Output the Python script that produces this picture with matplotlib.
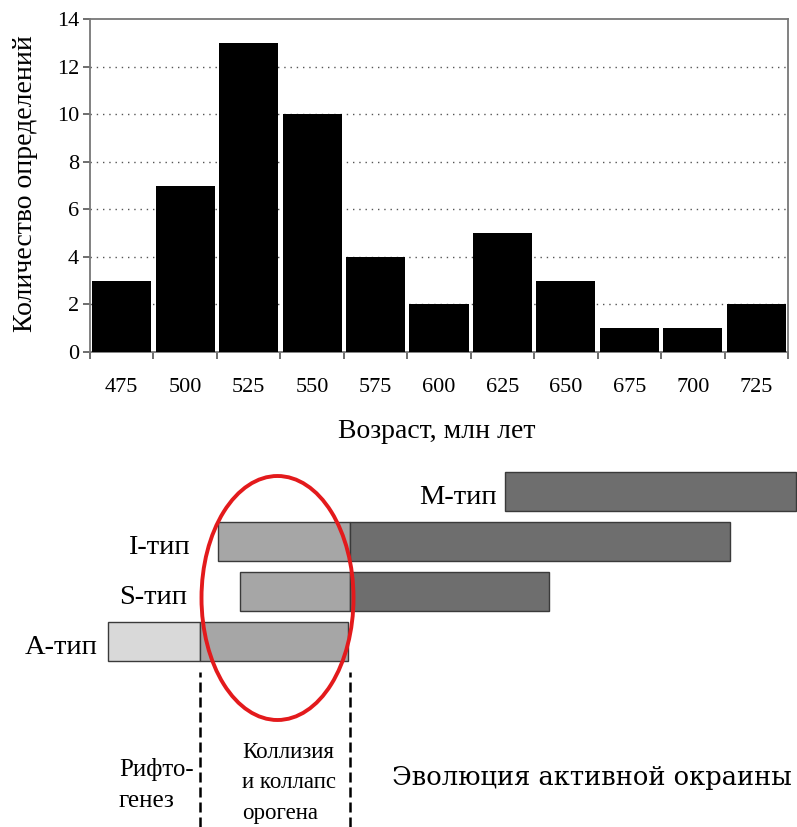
import matplotlib.pyplot as plt
import numpy as np
from matplotlib.patches import Ellipse

plt.rcParams['font.family'] = ['Liberation Serif', 'DejaVu Serif']

# histogram of age determinations
ages = [475, 500, 525, 550, 575, 600, 625, 650, 675, 700, 725]
counts = [3, 7, 13, 10, 4, 2, 5, 3, 1, 1, 2]

# schematic granite types, bottom row first: segments (start, end, colour key)
granite_types = ["A-тип", "S-тип", "I-тип", "M-тип"]
segments = {
    "A-тип": [(108, 200, "pale"), (200, 348, "mid")],
    "S-тип": [(240, 350, "mid"), (350, 549, "dark")],
    "I-тип": [(218, 350, "mid"), (350, 730, "dark")],
    "M-тип": [(505, 796, "dark")],
}
shades = {"pale": "#d9d9d9", "mid": "#a6a6a6", "dark": "#6e6e6e"}
type_label_x = [98, 187, 190, 497]

stage_bounds = [200, 350]
stage_labels = ["Рифто-\nгенез", "Коллизия\nи коллапс\nорогена",
                "Эволюция активной окраины"]

fig = plt.figure(figsize=(7.97, 8.27), dpi=100)

# --- top: histogram ---
ax = fig.add_axes([90 / 797, 1 - 352 / 827, 698 / 797, 333 / 827])
x = np.arange(len(ages))
ax.bar(x, counts, width=0.93, color="black", zorder=3)
ax.set_xlim(-0.5, len(ages) - 0.5)
ax.set_ylim(0, 14)
ax.set_yticks(range(0, 15, 2))
ax.set_xticks(np.arange(-0.5, len(ages), 1.0))
ax.set_xticklabels([])
ax.set_xticks(x, minor=True)
ax.set_xticklabels([str(a) for a in ages], minor=True)
ax.tick_params(axis="x", which="minor", length=0, pad=19, labelsize=16)
ax.tick_params(axis="x", which="major", length=5, width=1.2, color="#555555")
ax.tick_params(axis="y", length=5, width=1.2, color="#555555", labelsize=16, pad=3)
for yv in range(2, 14, 2):
    ax.axhline(yv, color="#555555", lw=1.0, ls=(0, (1, 3.5)), zorder=1)
for s in ax.spines.values():
    s.set_color("#777777")
    s.set_linewidth(1.3)
ax.set_ylabel("Количество определений", fontsize=20)
ax.yaxis.set_label_coords(-0.075, 0.505)
ax.set_xlabel("Возраст, млн лет", fontsize=20)
ax.xaxis.set_label_coords(0.497, -0.2)

# --- bottom: schematic of granite types ---
ax2 = fig.add_axes([0, 0, 1, 372 / 827])
ax2.set_xlim(0, 797)
ax2.set_ylim(-3.71, 3.73)
ax2.axis("off")

for row, name in enumerate(granite_types):
    for start, end, key in segments[name]:
        ax2.barh(row, end - start, left=start, height=0.79,
                 color=shades[key], edgecolor="#3a3a3a", linewidth=1.0, zorder=2)
    ax2.text(type_label_x[row], row - 0.12, name, ha="right", va="center",
             fontsize=20.5)

ax2.vlines(stage_bounds, -3.71, -0.61, colors="black", linestyles=(0, (4, 2)),
           linewidth=1.8)

ax2.add_patch(Ellipse((277.5, 0.87), 152, 4.88, fill=False,
                      edgecolor="#e31a1c", linewidth=2.8, zorder=4))

ax2.text(119, -2.87, stage_labels[0], ha="left", va="center", fontsize=18,
         linespacing=1.55)
ax2.text(242, -2.83, stage_labels[1], ha="left", va="center", fontsize=16.5,
         linespacing=1.57)
ax2.text(392, -2.73, stage_labels[2], ha="left", va="center", fontsize=18.5,
         family="DejaVu Serif")

fig.savefig("out.png", dpi=100)
